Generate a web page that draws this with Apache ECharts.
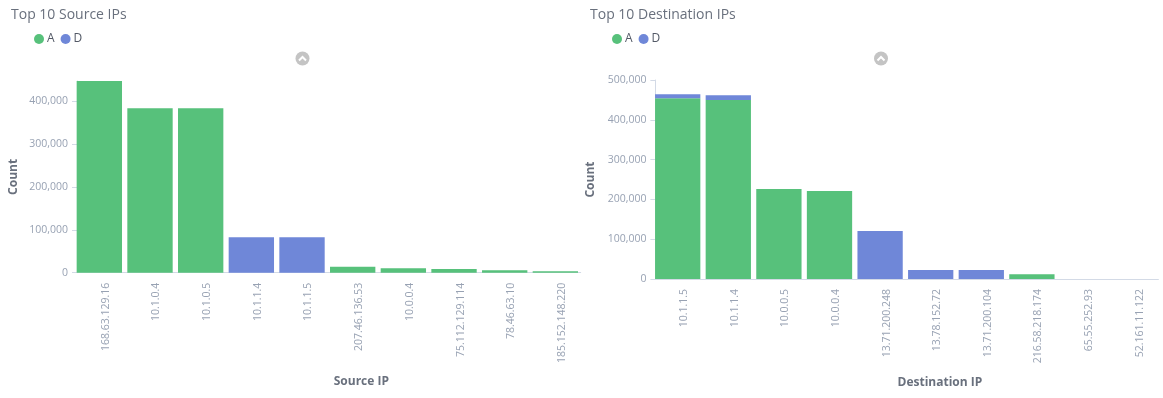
<!DOCTYPE html>
<html>
<head>
<meta charset="utf-8">
<script src="https://cdn.jsdelivr.net/npm/echarts@6/dist/echarts.min.js"></script>
<style>
  html, body { margin: 0; padding: 0; background: #fff; }
  #main { width: 1163px; height: 398px; }
</style>
</head>
<body>
<div id="main"></div>
<script>
// source side
const srcIPs = ['168.63.129.16', '10.1.0.4', '10.1.0.5', '10.1.1.4', '10.1.1.5',
    '207.46.136.53', '10.0.0.4', '75.112.129.114', '78.46.63.10', '185.152.148.220'];
const srcA = [446800, 383000, 383000, null, null, 14000, 10300, 8700, 5600, 3300];
const srcD = [null, null, null, 82800, 82800, null, null, null, null, null];

// destination side
const dstIPs = ['10.1.1.5', '10.1.1.4', '10.0.0.5', '10.0.0.4', '13.71.200.248',
    '13.78.152.72', '13.71.200.104', '216.58.218.174', '65.55.252.93', '52.161.11.122'];
const dstA = [454000, 450000, 226000, 221000, null, null, null, 11800, 150, 100];
const dstD = [10000, 11500, null, null, 120600, 22600, 22600, null, null, null];

const green = '#57c17b';
const blue = '#6f87d8';
const font = "'Open Sans', sans-serif";
const lineColor = '#d3dae6';
const labelColor = '#98a2b3';
const titleColor = '#69707d';

const srcMax = Math.max(...srcA.map((v, i) => (v || 0) + (srcD[i] || 0)));

const grids = [
    { left: 74, top: 81, width: 506.7, height: 191.7 },
    { left: 652.4, top: 80, width: 506, height: 199 }
];

const xAxisBase = (gridIndex, data, name, gap, shift) => ({
    type: 'category',
    gridIndex,
    data,
    name,
    nameLocation: 'middle',
    nameGap: gap,
    nameTextStyle: { color: titleColor, fontFamily: font, fontSize: 12, fontWeight: 'bold', padding: [0, 0, 0, shift] },
    axisLine: { lineStyle: { color: lineColor } },
    axisTick: { alignWithLabel: true, length: 5, lineStyle: { color: lineColor } },
    axisLabel: {
        rotate: 90, margin: 10, interval: 0,
        color: labelColor, fontFamily: font, fontSize: 10.5,
        verticalAlign: 'top', padding: [1, 0, 0, 0]
    }
});

const yAxisBase = (gridIndex, max, gap) => ({
    type: 'value',
    gridIndex,
    min: 0,
    max,
    interval: 100000,
    offset: -3,
    name: 'Count',
    nameLocation: 'middle',
    nameGap: gap,
    nameTextStyle: { color: titleColor, fontFamily: font, fontSize: 12, fontWeight: 'bold' },
    axisLine: { show: true, lineStyle: { color: lineColor } },
    axisTick: { show: true, length: 5, lineStyle: { color: lineColor } },
    splitLine: { show: false },
    axisLabel: {
        margin: 9, color: labelColor, fontFamily: font, fontSize: 10.5,
        showMaxLabel: max === 500000,
        formatter: v => v.toLocaleString('en-US')
    }
});

const barBase = {
    type: 'bar',
    barCategoryGap: '10.5%'
};

// collapse icon (grey circle with up chevron)
const chevron = (cx, cy) => ([
    { type: 'circle', shape: { cx, cy, r: 7 }, style: { fill: '#c4c4c4' }, silent: true },
    { type: 'polyline', shape: { points: [[cx - 3.5, cy + 2], [cx, cy - 1.5], [cx + 3.5, cy + 2]] },
      style: { stroke: '#fff', lineWidth: 2, fill: null }, silent: true }
]);

const legendBase = (left) => ({
    left, top: 33, padding: 0, icon: 'circle', itemWidth: 10, itemHeight: 10, itemGap: 6,
    textStyle: { color: '#535966', fontSize: 12, fontFamily: font, padding: [0, 0, 0, -2] },
    data: ['A', 'D']
});

const chart = echarts.init(document.getElementById('main'));
chart.setOption({
    animation: false,
    color: [green, blue],
    textStyle: { fontFamily: font },
    title: [
        { text: 'Top 10 Source IPs', left: 11, top: 8, padding: 0,
          textStyle: { color: titleColor, fontSize: 14, fontWeight: 'normal', fontFamily: font } },
        { text: 'Top 10 Destination IPs', left: 590, top: 8, padding: 0,
          textStyle: { color: titleColor, fontSize: 14, fontWeight: 'normal', fontFamily: font } }
    ],
    legend: [legendBase(34), legendBase(612)],
    grid: grids,
    xAxis: [
        xAxisBase(0, srcIPs, 'Source IP', 103, 68),
        xAxisBase(1, dstIPs, 'Destination IP', 98, 69)
    ],
    yAxis: [
        yAxisBase(0, srcMax, 57),
        yAxisBase(1, 500000, 59)
    ],
    series: [
        Object.assign({}, barBase, { name: 'A', xAxisIndex: 0, yAxisIndex: 0, stack: 'src', data: srcA }),
        Object.assign({}, barBase, { name: 'D', xAxisIndex: 0, yAxisIndex: 0, stack: 'src', data: srcD }),
        Object.assign({}, barBase, { name: 'A', xAxisIndex: 1, yAxisIndex: 1, stack: 'dst', data: dstA }),
        Object.assign({}, barBase, { name: 'D', xAxisIndex: 1, yAxisIndex: 1, stack: 'dst', data: dstD })
    ],
    graphic: chevron(302.5, 58.5).concat(chevron(881, 58.5))
});
</script>
</body>
</html>
